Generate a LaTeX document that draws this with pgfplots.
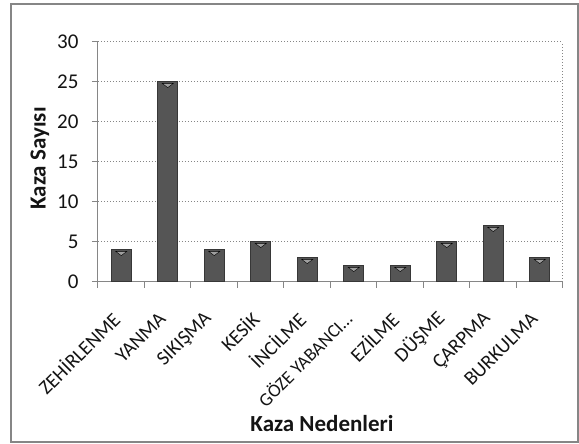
\documentclass[border=0pt]{standalone}
\usepackage{fontspec}
\setmainfont{Carlito}
\usepackage{pgfplots}
\pgfplotsset{compat=1.18}
\definecolor{axgray}{RGB}{134,134,134}
\definecolor{txt}{RGB}{20,20,20}
\definecolor{barfill}{RGB}{85,85,85}
\definecolor{baredge}{RGB}{55,55,55}
\begin{document}
\begin{tikzpicture}
\useasboundingbox (0pt,0pt) rectangle (579pt,444pt);
\draw[axgray, line width=1.5pt] (11pt,2pt) rectangle (578pt,440pt);
\begin{axis}[
 at={(98pt,162pt)}, anchor=south west,
 scale only axis, width=465pt, height=240pt,
 xmin=-0.5, xmax=9.5, ymin=0, ymax=30,
 ytick={0,5,...,30},
 xtick={0,...,9},
 xticklabels={ZEHİRLENME,YANMA,SIKIŞMA,KESİK,İNCİLME,{\fontsize{18.5}{18.5}\selectfont GÖZE YABANCI…},EZİLME,DÜŞME,ÇARPMA,BURKULMA},
 x tick style={draw=none},
 extra x ticks={-0.5,0.5,...,9.5},
 extra x tick labels={},
 extra x tick style={x tick style={draw=axgray, line width=1pt}, major tick length=6pt, xmajorgrids=false},
 axis x line*=bottom, axis y line*=left,
 axis line style={axgray, line width=1pt},
 y tick style={axgray, line width=1pt},
 tick align=outside, major tick length=6pt,
 ymajorgrids, major grid style={axgray, line width=1pt, dash pattern=on 1.2pt off 1.8pt},
 /pgf/number format/assume math mode=true,
 yticklabel style={font=\fontsize{21}{21}\selectfont, text=txt, xshift=-10pt},
 xticklabel style={font=\fontsize{20}{20}\selectfont, text=txt, xshift=-3pt, yshift=-25pt, rotate=45, anchor=east},
 ylabel={\textbf{Kaza Sayısı}},
 ylabel style={at={(rel axis cs:-0.1247,0.515)}, anchor=center, rotate=0, font=\fontsize{23}{23}\selectfont, text=txt},
 xlabel={\textbf{Kaza Nedenleri}},
 xlabel style={at={(rel axis cs:0.4817,-0.5917)}, anchor=center, font=\fontsize{23}{23}\selectfont, text=txt},
 after end axis/.code={\draw[axgray, line width=1pt, dash pattern=on 1.2pt off 1.8pt] (rel axis cs:1,0) -- (rel axis cs:1,1);},
 clip=false,
]
\addplot[ybar, bar width=20pt, draw=baredge, line width=1pt, fill=barfill]
 coordinates {(0,4) (1,25) (2,4) (3,5) (4,3) (5,2) (6,2) (7,5) (8,7) (9,3)};
\addplot[only marks, mark=triangle*, mark size=4pt, mark options={rotate=180, xscale=1.6, yscale=0.7, yshift=4pt, fill=gray!75, draw=none}]
 coordinates {(0,4) (1,25) (2,4) (3,5) (4,3) (5,2) (6,2) (7,5) (8,7) (9,3)};
\end{axis}
\end{tikzpicture}
\end{document}
